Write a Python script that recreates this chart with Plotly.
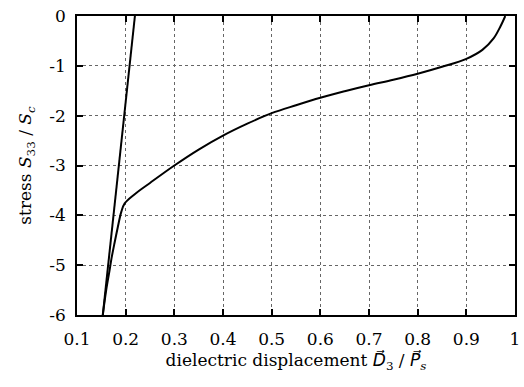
import plotly.graph_objects as go

# Data
line_x = [0.153, 0.219]
line_y = [-6.0, 0.0]

curve_x = [0.153, 0.160, 0.167, 0.171, 0.177, 0.184, 0.191, 0.198, 0.218, 0.25, 0.30, 0.35, 0.40,
           0.45, 0.50, 0.55, 0.60, 0.65, 0.70, 0.75, 0.80, 0.85, 0.90, 0.933, 0.956, 0.970, 0.980]
curve_y = [-6.0, -5.5, -5.1, -4.86, -4.56, -4.23, -3.93, -3.76, -3.58, -3.35, -3.0, -2.68, -2.40,
           -2.16, -1.95, -1.79, -1.64, -1.51, -1.39, -1.28, -1.16, -1.02, -0.86, -0.68, -0.45, -0.21, 0.0]

x_ticks = [0.1, 0.2, 0.3, 0.4, 0.5, 0.6, 0.7, 0.8, 0.9, 1.0]
x_tick_labels = ["0.1", "0.2", "0.3", "0.4", "0.5", "0.6", "0.7", "0.8", "0.9", "1"]
y_ticks = [-6, -5, -4, -3, -2, -1, 0]
y_tick_labels = ["-6", "-5", "-4", "-3", "-2", "-1", "0"]

FONT = "DejaVu Serif"
VEC = "<span style='font-family:DejaVu Sans'><i>{}\u20d7</i></span>"

fig = go.Figure()
fig.add_trace(go.Scatter(x=line_x, y=line_y, mode="lines",
                         line=dict(color="black", width=2), showlegend=False))
fig.add_trace(go.Scatter(x=curve_x, y=curve_y, mode="lines", line_shape="spline",
                         line=dict(color="black", width=2, smoothing=1.0), showlegend=False))

axis_common = dict(showline=True, linecolor="black", linewidth=1.5, mirror="ticks",
                   ticks="inside", ticklen=6, tickcolor="black", tickwidth=1.5,
                   showgrid=True, gridcolor="#666666", griddash="dot", gridwidth=1,
                   zeroline=False, tickfont=dict(family=FONT, size=17, color="black"))

x_title = ("dielectric displacement " + VEC.format("D") + "<sub>3</sub> / "
           + VEC.format("P") + "<sub><i>s</i></sub>")

fig.update_xaxes(range=[0.1, 1.0], tickvals=x_ticks, ticktext=x_tick_labels,
                 ticklabelstandoff=8,
                 title=dict(text=x_title, font=dict(family=FONT, size=17, color="black"), standoff=6),
                 **axis_common)
fig.update_yaxes(range=[-6, 0], tickvals=y_ticks, ticktext=y_tick_labels,
                 ticklabelstandoff=6,
                 title=dict(text="stress <i>S</i><sub>33</sub> / <i>S<sub>c</sub></i>",
                            font=dict(family=FONT, size=17, color="black"), standoff=13),
                 **axis_common)

fig.update_layout(width=524, height=387, margin=dict(l=77, r=4, t=16, b=72),
                  plot_bgcolor="white", paper_bgcolor="white")

fig.write_html("out.html")
